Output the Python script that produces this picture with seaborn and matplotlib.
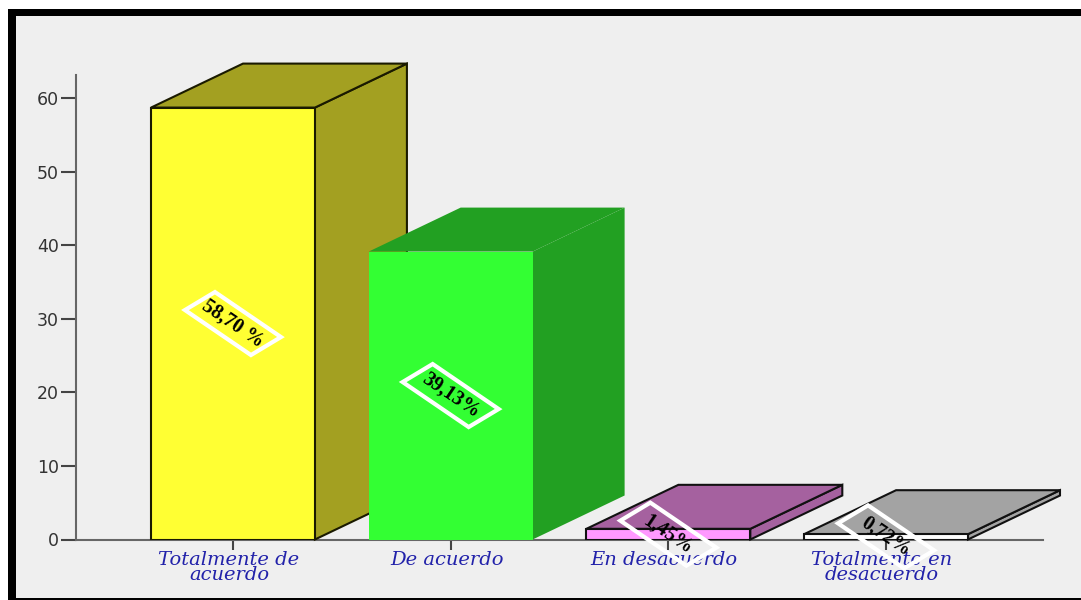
import matplotlib
matplotlib.use('Agg')
import matplotlib.pyplot as plt
import seaborn as sns
from matplotlib.patches import Polygon, Rectangle
from matplotlib.transforms import ScaledTranslation
from pandas import DataFrame

categories = ['Totalmente de\nacuerdo', 'De acuerdo', 'En desacuerdo', 'Totalmente en\ndesacuerdo']
percentages = [58.70, 39.13, 1.45, 0.72]
value_labels = ['58,70 %', '39,13%', '1,45%', '0,72%']
y_ticks = [0, 10, 20, 30, 40, 50, 60]

front_colors = ['#ffff33', '#33ff33', '#ff99ff', '#ffffff']
depth_colors = ['#a3a021', '#22a022', '#a5619f', '#a3a3a3']
edge_colors = ['#1a1a00', 'none', '#111111', '#111111']

W, H = 1081, 600
# 3d offset of the bars, in data units
depth_x = 0.4226
depth_y = 5.98
# slanted label frame around the bar centre, in inches
label_frame = [(-0.48, 0.135), (-0.18, 0.315), (0.48, -0.135), (0.18, -0.315)]

sns.set_style('white')
fig = plt.figure(figsize=(W / 100, H / 100), dpi=100, facecolor='white')

# black frame and grey panel, behind the axes
fig.patches.append(Rectangle((8 / W, 0), 1 - 8 / W, 1 - 9 / H, transform=fig.transFigure, figure=fig, fc='black', ec='none', zorder=-2))
fig.patches.append(Rectangle((16 / W, 2 / H), 1 - 16 / W, 1 - 18 / H, transform=fig.transFigure, figure=fig, fc='#efefef', ec='none', zorder=-1))

ax = fig.add_axes([76 / W, (H - 539.5) / H, (1043 - 76) / W, (539.5 - 75) / H])
ax.patch.set_alpha(0)

df = DataFrame({'category': categories, 'percent': percentages})
sns.barplot(df, x='category', y='percent', hue='category', palette=front_colors, legend=False, width=0.753, saturation=1, ax=ax)

ax.set_xlim(-0.721, 3.721)
ax.set_ylim(0, 63.13)
ax.set_xlabel('')
ax.set_ylabel('')
ax.set_yticks(y_ticks)

for i, bar in enumerate(list(ax.patches)):
    x0, x1 = bar.get_x(), bar.get_x() + bar.get_width()
    h = bar.get_height()
    xc = (x0 + x1) / 2
    bar.set_zorder(3 + i + 0.5)
    bar.set_edgecolor(edge_colors[i])
    bar.set_linewidth(1.5)
    side = [(x1, 0), (x1 + depth_x, depth_y), (x1 + depth_x, h + depth_y), (x1, h)]
    top = [(x0, h), (x0 + depth_x, h + depth_y), (x1 + depth_x, h + depth_y), (x1, h)]
    for pts in (side, top):
        ax.add_patch(Polygon(pts, closed=True, fc=depth_colors[i], ec=edge_colors[i], lw=1.5, zorder=3 + i, clip_on=False))
    frame_trans = fig.dpi_scale_trans + ScaledTranslation(xc, h / 2, ax.transData)
    ax.add_patch(Polygon(label_frame, closed=True, fc='none', ec='white', lw=3, zorder=9, clip_on=False, transform=frame_trans))
    ax.text(xc, h / 2, value_labels[i], rotation=-34, rotation_mode='anchor', ha='center', va='center',
            family='Liberation Serif', fontweight='bold', fontsize=14.5, color='black', zorder=10, clip_on=False)

sns.despine(ax=ax)
for name in ('left', 'bottom'):
    ax.spines[name].set_color('#666666')
    ax.spines[name].set_linewidth(1.5)
ax.tick_params(axis='y', length=10.5, width=1.5, color='#444444', labelsize=12.5, labelcolor='#333333', pad=2, left=True)
ax.tick_params(axis='x', length=7, width=1.5, color='#444444', pad=1, bottom=True)
for label in ax.get_xticklabels():
    label.set_family('DejaVu Serif')
    label.set_style('italic')
    label.set_fontsize(14)
    label.set_color('#2222aa')
    label.set_linespacing(0.8)
    # labels sit slightly left of their ticks
    label.set_transform(label.get_transform() + ScaledTranslation(-0.04, 0, fig.dpi_scale_trans))

fig.savefig('out.png', dpi=100, facecolor=fig.get_facecolor())
